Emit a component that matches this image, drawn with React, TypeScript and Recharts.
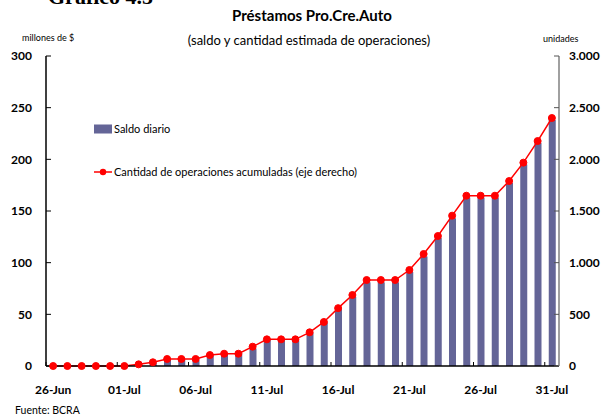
import React from "react";
import { ComposedChart, Bar, Line, XAxis, YAxis, Legend } from "recharts";

const fechas = [
  "26-Jun", "27-Jun", "28-Jun", "29-Jun", "30-Jun",
  "01-Jul", "02-Jul", "03-Jul", "04-Jul", "05-Jul", "06-Jul", "07-Jul", "08-Jul", "09-Jul", "10-Jul",
  "11-Jul", "12-Jul", "13-Jul", "14-Jul", "15-Jul", "16-Jul", "17-Jul", "18-Jul", "19-Jul", "20-Jul",
  "21-Jul", "22-Jul", "23-Jul", "24-Jul", "25-Jul", "26-Jul", "27-Jul", "28-Jul", "29-Jul", "30-Jul", "31-Jul",
];

// millones de $
const saldoDiario = [
  0, 0, 0, 0, 0, 0, 1, 3, 6, 6, 6, 10, 12, 12, 17, 25, 25, 25,
  32, 42, 55, 67, 81, 81, 81, 91, 106, 124, 143, 163, 163, 163, 177, 195, 216, 238,
];

// unidades
const operacionesAcum = [
  0, 0, 0, 0, 0, 0, 16, 36, 68, 68, 68, 106, 119, 119, 187, 258, 258, 258,
  326, 426, 560, 687, 832, 832, 832, 929, 1084, 1258, 1455, 1648, 1648, 1648, 1790, 1968, 2177, 2400,
];

const leftTicks = [0, 50, 100, 150, 200, 250, 300];
const rightTicks = [0, 500, 1000, 1500, 2000, 2500, 3000];

const data = fechas.map((f, i) => ({
  fecha: f,
  saldo: saldoDiario[i],
  operaciones: operacionesAcum[i],
}));

const FONT = "Lato, 'Open Sans', sans-serif";
const BAR_COLOR = "#646597";
const RED = "#ff0000";

const fmtMiles = (v: number) => String(v).replace(/\B(?=(\d{3})+(?!\d))/g, ".");

function DateTick(props: any) {
  const { x, y, payload } = props;
  const half = payload?.offset ?? 7.1;
  return (
    <g>
      <line x1={x - half} x2={x - half} y1={y} y2={y - 4} stroke="#000" strokeWidth={1} />
      <text x={x} y={y + 28} textAnchor="middle" fontFamily={FONT} fontWeight="bold" fontSize={12} fill="#000">
        {payload.value}
      </text>
    </g>
  );
}

function LegendBox(props: any) {
  // bars first, as in the original legend
  const items = [...(props.payload || [])].sort(
    (a: any, b: any) => (a.type === "line" ? 1 : 0) - (b.type === "line" ? 1 : 0)
  );
  return (
    <svg width={300} height={70} style={{ overflow: "visible" }}>
      {items.map((it: any, i: number) => {
        const cy = 10 + i * 43;
        return (
          <g key={i}>
            {it.type === "line" ? (
              <g>
                <line x1={0} x2={18} y1={cy} y2={cy} stroke={RED} strokeWidth={1.5} />
                <circle cx={9} cy={cy} r={3.2} fill={RED} />
              </g>
            ) : (
              <rect x={0} y={cy - 4.5} width={18} height={9} fill={BAR_COLOR} />
            )}
            <text x={20} y={cy + 4} fontFamily={FONT} fontSize={11} fill="#000">
              {it.value}
            </text>
          </g>
        );
      })}
    </svg>
  );
}

export default function App() {
  return (
    <div style={{ position: "absolute", left: 0, top: 0, width: 602, height: 418, background: "#fff" }}>
      <ComposedChart
        width={602}
        height={418}
        data={data}
        margin={{ top: 56, right: 0, bottom: 22, left: 0 }}
        barCategoryGap={0}
      >
        <XAxis
          dataKey="fecha"
          interval={4}
          tickSize={0}
          tickMargin={0}
          tickLine={false}
          axisLine={{ stroke: "#000", strokeWidth: 1.5 }}
          tick={<DateTick />}
          height={30}
        />
        <YAxis
          yAxisId="left"
          orientation="left"
          width={46}
          domain={[0, 300]}
          ticks={leftTicks}
          tickSize={-5}
          tickMargin={19}
          axisLine={{ stroke: "#000", strokeWidth: 1.5 }}
          tickLine={{ stroke: "#000" }}
          tick={{ fill: "#000", fontFamily: FONT, fontWeight: "bold", fontSize: 12 }}
        />
        <YAxis
          yAxisId="right"
          orientation="right"
          width={43}
          domain={[0, 3000]}
          ticks={rightTicks}
          tickSize={-5}
          tickMargin={15}
          tickFormatter={fmtMiles}
          axisLine={{ stroke: "#808080", strokeWidth: 1.5 }}
          tickLine={{ stroke: "#555" }}
          tick={{ fill: "#000", fontFamily: FONT, fontWeight: "bold", fontSize: 12 }}
        />
        <Legend
          layout="vertical"
          align="center"
          verticalAlign="middle"
          content={<LegendBox />}
          wrapperStyle={{ left: 94, top: 119, width: 300, height: 70 }}
        />
        <Bar
          yAxisId="left"
          dataKey="saldo"
          name="Saldo diario"
          fill={BAR_COLOR}
          barSize={7}
          isAnimationActive={false}
          legendType="rect"
        />
        <Line
          yAxisId="right"
          dataKey="operaciones"
          name="Cantidad de operaciones acumuladas (eje derecho)"
          stroke={RED}
          strokeWidth={1.5}
          dot={{ r: 3.5, fill: RED, stroke: RED, strokeWidth: 1 }}
          activeDot={false}
          isAnimationActive={false}
          legendType="line"
        />
      </ComposedChart>
      <svg
        width={602}
        height={418}
        style={{ position: "absolute", left: 0, top: 0, pointerEvents: "none" }}
      >
        <text x={48} y={4} fontFamily="'Liberation Serif', serif" fontWeight="bold" fontSize={22} fill="#000">
          Gráfico 4.5
        </text>
        <text x={312} y={21} textAnchor="middle" fontFamily={FONT} fontWeight="bold" fontSize={15} fill="#000">
          Préstamos Pro.Cre.Auto
        </text>
        <text x={309} y={45} textAnchor="middle" fontFamily={FONT} fontSize={13} fill="#000">
          (saldo y cantidad estimada de operaciones)
        </text>
        <text x={22} y={41} fontFamily={FONT} fontSize={9} fill="#000">
          millones de $
        </text>
        <text x={543} y={42} fontFamily={FONT} fontSize={9} fill="#000">
          unidades
        </text>
        <text x={15} y={414} fontFamily={FONT} fontSize={10.5} fill="#000">
          Fuente: BCRA
        </text>
      </svg>
    </div>
  );
}
